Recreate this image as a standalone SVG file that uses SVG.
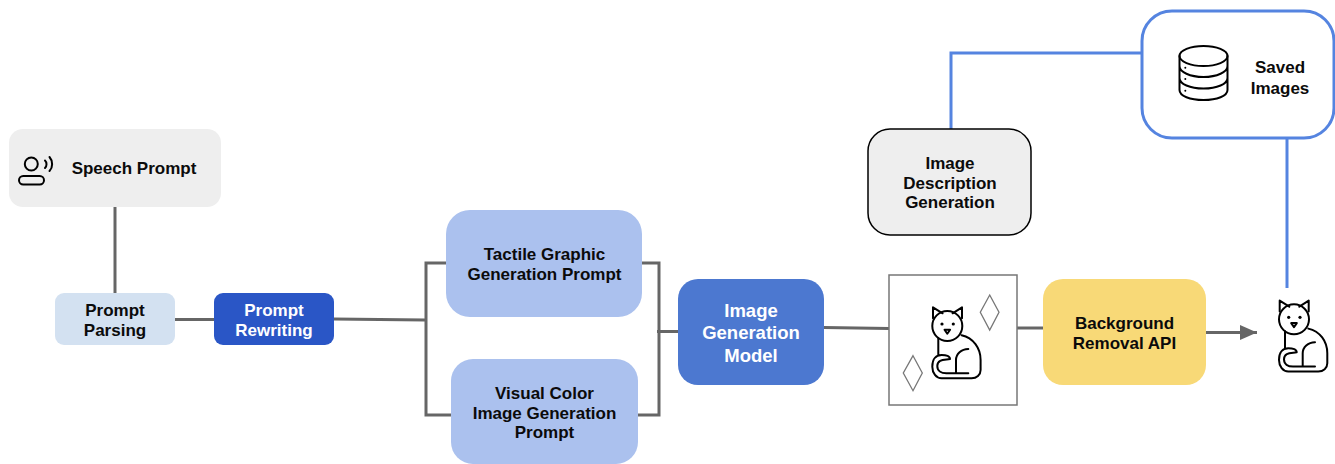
<svg xmlns="http://www.w3.org/2000/svg" width="1335" height="464" viewBox="0 0 1335 464">
<style>
text{font-family:"Liberation Sans",Arial,sans-serif;font-weight:700;font-size:17px;fill:#0b0b0b;text-anchor:middle}
.w{fill:#fff}
.big{font-size:18.500px}
.c{fill:none;stroke:#666;stroke-width:3}
.b{fill:none;stroke:#5584e0;stroke-width:3}
.i{fill:none;stroke:#000;stroke-width:2;stroke-linecap:round;stroke-linejoin:round}
</style>
<defs>
<marker id="arrow" markerUnits="userSpaceOnUse" markerWidth="18" markerHeight="16" refX="17" refY="7.500" orient="auto"><path d="M0 0L17 7.500L0 15Z" fill="#666"/></marker>
<g id="cat">
<circle class="i" cx="0" cy="0" r="15"/>
<path class="i" d="M-14.300-7.700V-18.700L-4.700-12.700M5.300-12.700L14.700-18.700V-7.700"/>
<circle cx="-5.300" cy="-2" r="1.600"/><circle cx="6" cy="-2" r="1.600"/>
<path class="i" d="M-2.800 3.800H2.800L0 7.800Z"/>
<path class="i" d="M-9 12V29M14.300 9.300C26 12 33.300 22 33.300 34V44C33.300 49 29.300 52.300 24.300 52.300H-5.700C-11 52.300-15 47-15 40.700C-15 33-11 29-5.700 29C-1 29 2.700 30 2.700 33C-3 34-10 33-10 40C-10 45-6 47.300-1 47.300H21M8.700 47.300V34C8.700 28 14 23 21 23"/>
</g>
</defs>
<g id="connectors">
<path class="c" d="M115 207V293"/>
<path class="c" d="M175 319.500H214"/>
<path class="c" d="M334 319L425 320"/>
<path class="c" d="M446 263H426V415H451"/>
<path class="c" d="M642 263H659V415H638"/>
<path class="c" d="M657 331.500H678"/>
<path class="c" d="M824 327.500L889 328.500"/>
<path class="c" d="M1017 328H1043"/>
<path class="c" d="M1206 332.500H1257" marker-end="url(#arrow)"/>
<path class="b" d="M951 129V53H1142"/>
<path class="b" d="M1287 138V288"/>
</g>
<g id="speech-prompt">
<rect x="9" y="129" width="212" height="78" rx="14" fill="#eeeeee"/>
<circle class="i" cx="31.300" cy="164" r="6.500"/>
<rect class="i" x="19" y="176" width="25" height="8.500" rx="4.250"/>
<path class="i" d="M45 160.500C47 162.500 47 166 45 168M49.500 157C53 161 53 167.500 49.500 171"/>
<text x="134" y="174">Speech Prompt</text>
</g>
<g id="prompt-parsing">
<rect x="55" y="293" width="120" height="52" rx="9" fill="#d3e1f1"/>
<text x="115" y="316">Prompt</text><text x="115" y="336">Parsing</text>
</g>
<g id="prompt-rewriting">
<rect x="214" y="293" width="120" height="52" rx="9" fill="#2a56c6"/>
<text class="w" x="274" y="316">Prompt</text><text class="w" x="274" y="336">Rewriting</text>
</g>
<g id="tactile-prompt">
<rect x="446" y="210" width="196" height="107" rx="24" fill="#abc1ee"/>
<text x="544.500" y="260">Tactile Graphic</text><text x="544.500" y="280">Generation Prompt</text>
</g>
<g id="visual-prompt">
<rect x="451" y="359" width="187" height="105" rx="22" fill="#abc1ee"/>
<text x="544.500" y="399">Visual Color</text><text x="544.500" y="419">Image Generation</text><text x="544.500" y="438">Prompt</text>
</g>
<g id="image-generation-model">
<rect x="678" y="279" width="146" height="106" rx="20" fill="#4c78d0"/>
<text class="w big" x="751" y="317">Image</text><text class="w big" x="751" y="339">Generation</text><text class="w big" x="751" y="362">Model</text>
</g>
<g id="generated-image">
<rect x="889" y="275" width="128" height="130" fill="#fff" stroke="#777" stroke-width="1.500"/>
<path d="M989.700 295L999 312.300L989.700 330L980.300 312.300Z" fill="#fff" stroke="#777" stroke-width="1.300"/>
<path d="M913 355.700L922.300 373L913 390.700L903.300 373Z" fill="#fff" stroke="#777" stroke-width="1.300"/>
<use href="#cat" x="947.300" y="326"/>
</g>
<g id="background-removal">
<rect x="1043" y="279" width="163" height="106" rx="20" fill="#f8d977"/>
<text x="1124.500" y="329">Background</text><text x="1124.500" y="349">Removal API</text>
</g>
<g id="cutout-cat"><use href="#cat" x="1294" y="319.300"/></g>
<g id="image-description">
<rect x="868" y="129" width="163" height="106" rx="22" fill="#eeeeee" stroke="#000" stroke-width="1.500"/>
<text x="950" y="169">Image</text><text x="950" y="189">Description</text><text x="950" y="208">Generation</text>
</g>
<g id="saved-images">
<rect x="1142" y="11" width="192" height="127" rx="30" fill="#fff" stroke="#5584e0" stroke-width="3"/>
<ellipse class="i" cx="1203.500" cy="56" rx="24" ry="10"/>
<path class="i" d="M1179.500 56V90C1179.500 96 1190 100 1203.500 100S1227.500 96 1227.500 90V56M1179.500 66C1179.500 72 1190 77 1203.500 77S1227.500 72 1227.500 66M1179.500 78C1179.500 84 1190 88.500 1203.500 88.500S1227.500 84 1227.500 78"/>
<circle cx="1185.300" cy="67.700" r="1"/><circle cx="1185.300" cy="79" r="1"/><circle cx="1185.300" cy="90.700" r="1"/>
<text x="1280" y="73">Saved</text><text x="1280" y="94">Images</text>
</g>
</svg>
